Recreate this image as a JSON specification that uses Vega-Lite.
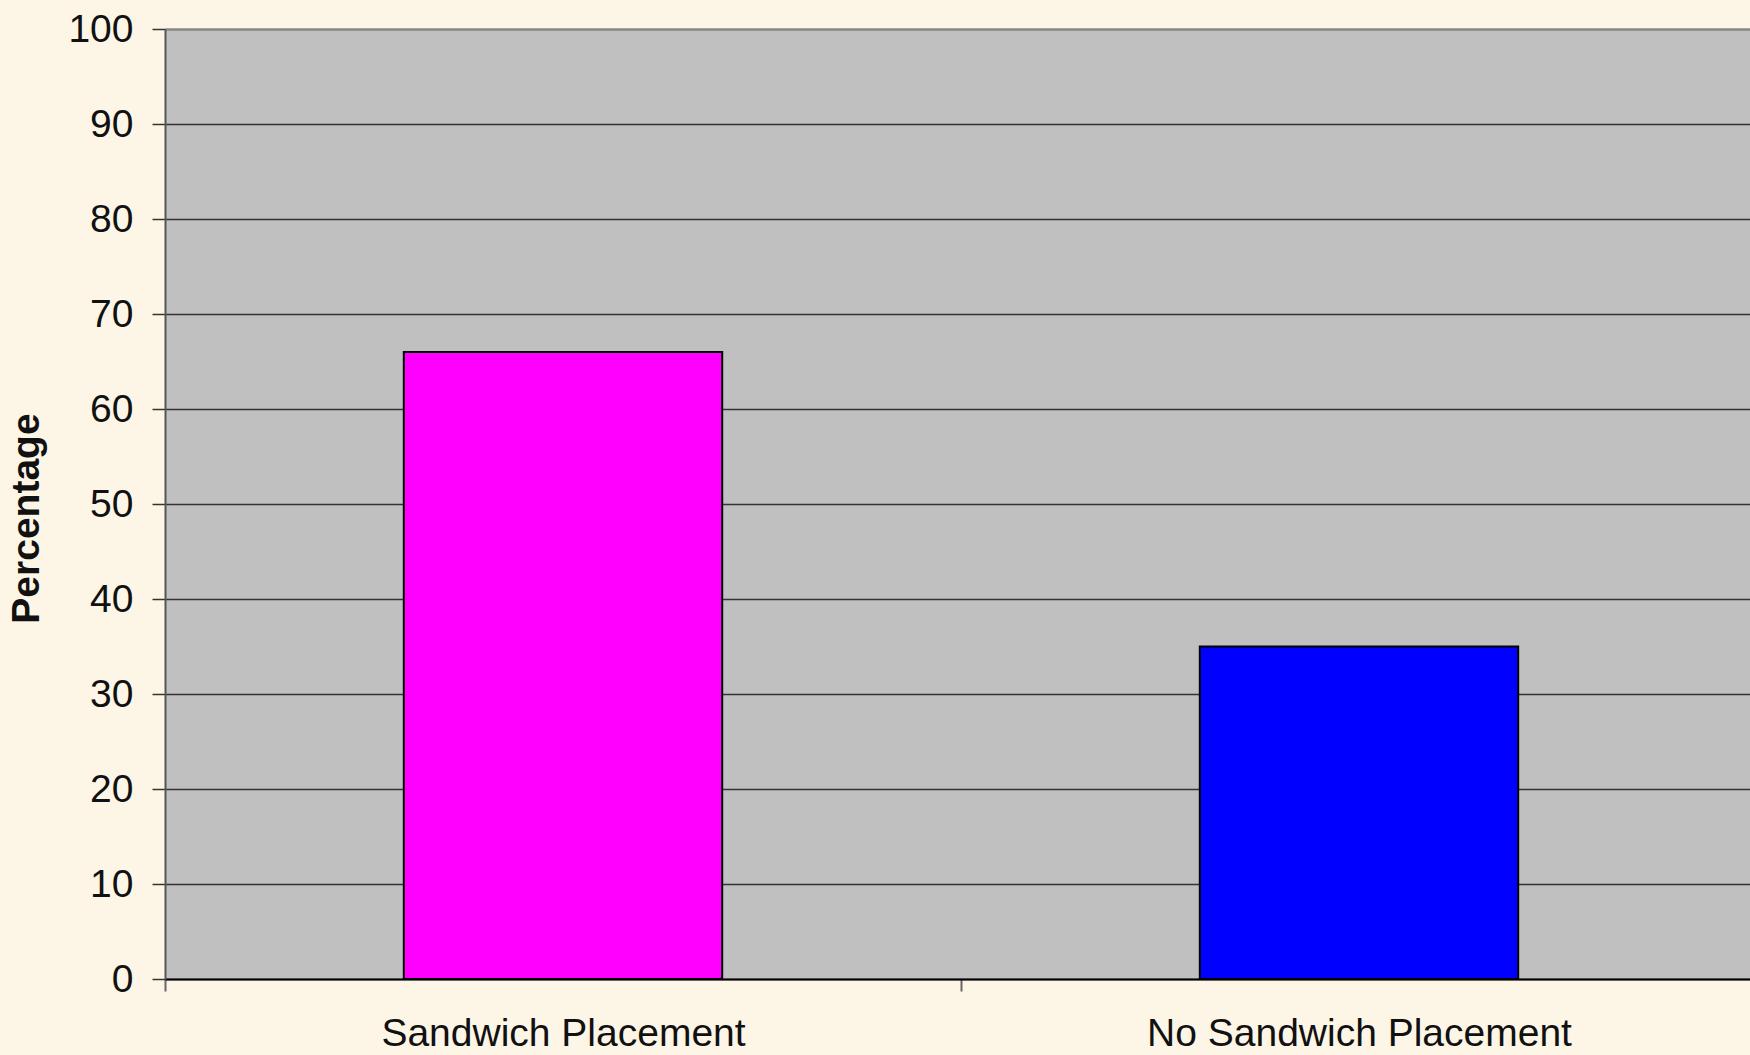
{
  "$schema": "https://vega.github.io/schema/vega-lite/v6.json",
  "autosize": {"type": "none"},
  "padding": {"left": 165, "top": 29, "right": 0, "bottom": 76},
  "width": 1592,
  "height": 950,
  "background": "#FDF6E7",
  "config": {
    "view": {"fill": "#C0C0C0", "stroke": null},
    "font": "Liberation Sans"
  },
  "data": {
    "values": [
      {"group": "Sandwich Placement", "percentage": 66},
      {"group": "No Sandwich Placement", "percentage": 35}
    ]
  },
  "mark": {"type": "bar", "width": {"band": 0.4}, "stroke": "#000000", "strokeWidth": 2},
  "encoding": {
    "x": {
      "field": "group",
      "type": "nominal",
      "sort": null,
      "scale": {"paddingInner": 0, "paddingOuter": 0},
      "axis": {
        "title": null,
        "labelAngle": 0,
        "labelFontSize": 39,
        "labelColor": "#111111",
        "labelPadding": 23,
        "labelLimit": 0,
        "tickBand": "extent",
        "tickSize": 12,
        "tickColor": "#666666",
        "tickWidth": 2,
        "domainColor": "#000000",
        "domainWidth": 2
      }
    },
    "y": {
      "field": "percentage",
      "type": "quantitative",
      "scale": {"domain": [0, 100], "nice": false},
      "axis": {
        "title": "Percentage",
        "titleFontSize": 39,
        "titleFontWeight": "bold",
        "titleColor": "#111111",
        "titlePadding": 21,
        "titleY": 489,
        "values": [0, 10, 20, 30, 40, 50, 60, 70, 80, 90, 100],
        "labelFontSize": 39,
        "labelColor": "#111111",
        "labelPadding": 19,
        "tickSize": 13,
        "tickColor": "#333333",
        "tickWidth": 1.5,
        "domainColor": "#555555",
        "domainWidth": 2,
        "grid": true,
        "gridColor": {"condition": {"test": "datum.value === 100", "value": "#888888"}, "value": "#333333"},
        "gridWidth": {"condition": {"test": "datum.value === 100", "value": 2.5}, "value": 1.4},
        "gridOpacity": 1
      }
    },
    "color": {
      "field": "group",
      "type": "nominal",
      "scale": {"domain": ["Sandwich Placement", "No Sandwich Placement"], "range": ["#FF00FF", "#0000FF"]},
      "legend": null
    }
  }
}
